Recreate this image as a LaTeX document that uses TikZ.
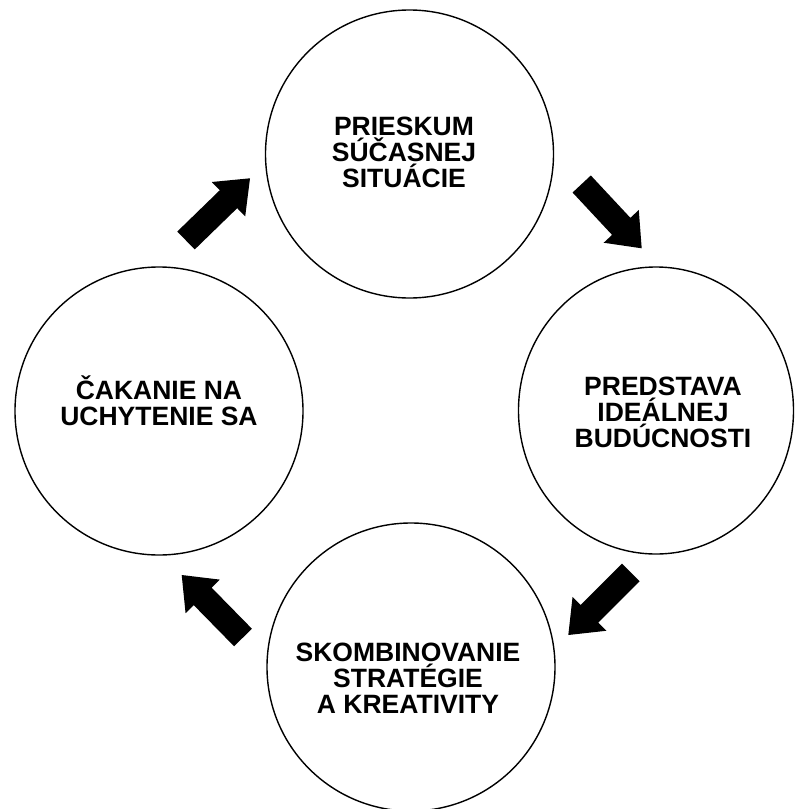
\documentclass[tikz,border=0pt]{standalone}
\usepackage{fontspec}
\setmainfont{Liberation Sans}
\usetikzlibrary{calc,shapes.geometric}
\tikzset{
  stage/.style={draw=black, line width=1.4pt, circle, minimum size=288pt, inner sep=0pt},
  stageell/.style={draw=black, line width=1.4pt, ellipse, minimum width=275pt, minimum height=287pt, inner sep=0pt},
  lbl/.style={align=center, font=\fontsize{26.5}{26}\selectfont\bfseries, inner sep=0pt, text=black},
  blockfill/.style={fill=black}
}
\newcommand\blockarr[3]{%
  \coordinate (#3h) at ($(#2)!30pt!(#1)$);
  \fill[blockfill] ($(#1)!12.5pt!90:(#2)$) -- ($(#3h)!12.5pt!90:(#2)$) -- ($(#3h)!24pt!90:(#2)$) -- (#2)
    -- ($(#3h)!24pt!-90:(#2)$) -- ($(#3h)!12.5pt!-90:(#2)$) -- ($(#1)!12.5pt!-90:(#2)$) -- cycle;}
\begin{document}
\begin{tikzpicture}[x=1pt,y=-1pt]
\useasboundingbox (0,0) rectangle (796,809);
\fill[white] (0,0) rectangle (796,809);
% stages
\node[stage] (prieskum) at (409.5,154) {};
\node[stageell] (predstava) at (656,410.5) {};
\node[stage] (skomb) at (411,667) {};
\node[stage] (cakanie) at (159,411) {};
% labels
\node[lbl] (tprieskum) at (404,152.5) {PRIESKUM\\SÚČASNEJ\\SITUÁCIE};
\node[lbl] (tpredstava) at (663,412) {PREDSTAVA\\IDEÁLNEJ\\BUDÚCNOSTI};
\node[lbl] (tskomb) at (408,678) {SKOMBINOVANIE\\STRATÉGIE\\A KREATIVITY};
\node[lbl] (tcakanie) at (159,401) {ČAKANIE NA\\UCHYTENIE SA};
% arrow ends
\coordinate (a1s) at (186,240.5);  \coordinate (a1e) at (250,178.3);
\coordinate (a2s) at (581.7,184);  \coordinate (a2e) at (641.7,248.3);
\coordinate (a3s) at (630.8,572.5); \coordinate (a3e) at (568.3,635);
\coordinate (a4s) at (243,637.5);  \coordinate (a4e) at (181.7,575);
\blockarr{a1s}{a1e}{a1}
\blockarr{a2s}{a2e}{a2}
\blockarr{a3s}{a3e}{a3}
\blockarr{a4s}{a4e}{a4}
\end{tikzpicture}
\end{document}
